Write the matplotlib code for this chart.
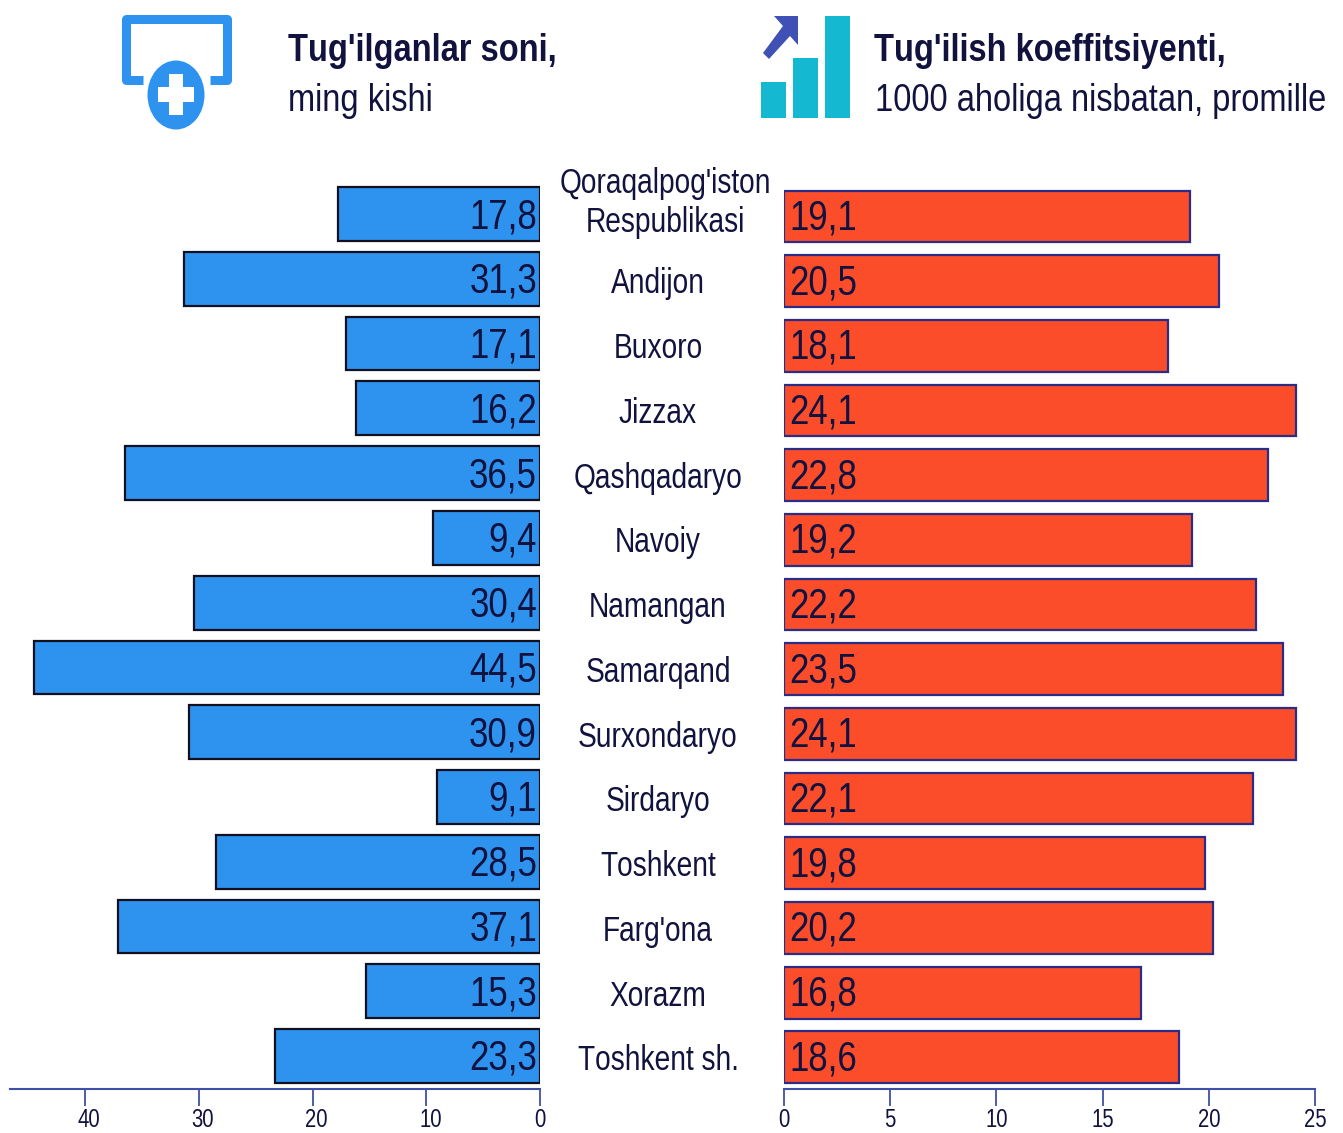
import os
import tempfile
import matplotlib
matplotlib.use("Agg")
import matplotlib.pyplot as plt
from matplotlib import font_manager as fm
from matplotlib.patches import Rectangle, Ellipse, Polygon
from matplotlib.transforms import blended_transform_factory, ScaledTranslation
from fontTools.ttLib import TTFont

regions = ["Qoraqalpog'iston\nRespublikasi", "Andijon", "Buxoro", "Jizzax", "Qashqadaryo",
           "Navoiy", "Namangan", "Samarqand", "Surxondaryo", "Sirdaryo", "Toshkent",
           "Farg'ona", "Xorazm", "Toshkent sh."]
births = [17.8, 31.3, 17.1, 16.2, 36.5, 9.4, 30.4, 44.5, 30.9, 9.1, 28.5, 37.1, 15.3, 23.3]
rate = [19.1, 20.5, 18.1, 24.1, 22.8, 19.2, 22.2, 23.5, 24.1, 22.1, 19.8, 20.2, 16.8, 18.6]
left_ticks = [40, 30, 20, 10, 0]
right_ticks = [0, 5, 10, 15, 20, 25]

W, H = 1343, 1133
BLUE = '#2E93EE'
RED = '#FB4D2A'
NAVY = '#2B2C86'
AXIS = '#3F51A5'
DARK = '#12123F'


# no narrow font is installed, so squeeze Liberation Sans sideways into a new one
def condense(weight, new_name, f):
    src = fm.findfont(fm.FontProperties(family='Liberation Sans', weight=weight))
    font = TTFont(src)
    glyf = font['glyf']
    for gname in glyf.keys():
        g = glyf[gname]
        if g.isComposite():
            for c in g.components:
                c.x = int(c.x * f)
        elif g.numberOfContours > 0:
            g.coordinates.scale((f, 1))
            g.coordinates.toInt()
        g.recalcBounds(glyf)
    hmtx = font['hmtx']
    for gname in hmtx.metrics:
        adv, lsb = hmtx.metrics[gname]
        hmtx.metrics[gname] = (int(adv * f), int(lsb * f))
    for tag in ['kern', 'hdmx', 'VDMX', 'GPOS', 'LTSH']:
        if tag in font:
            del font[tag]
    for rec in font['name'].names:
        if rec.nameID in (1, 4, 16):
            rec.string = new_name
        elif rec.nameID == 6:
            rec.string = new_name.replace(' ', '')
    path = os.path.join(tempfile.gettempdir(), new_name.replace(' ', '') + '.ttf')
    font.save(path)
    fm.fontManager.addfont(path)


condense('normal', 'Squeezed Body', 0.81)
condense('normal', 'Squeezed Head', 0.87)
condense('bold', 'Squeezed HeadB', 0.87)
plt.rcParams['font.family'] = ['Squeezed Body', 'Liberation Sans', 'DejaVu Sans']


def px_axes(fig, x0, x1, y0, y1):
    # y0 = top, y1 = bottom in picture pixels
    return fig.add_axes([x0 / W, 1 - y1 / H, (x1 - x0) / W, (y1 - y0) / H])


def style_axis(ax, ticks, xlim, ylim):
    ax.set_xlim(*xlim)
    ax.set_ylim(*ylim)
    ax.set_yticks([])
    ax.set_xticks(ticks)
    ax.patch.set_visible(False)
    for s in ['top', 'left', 'right']:
        ax.spines[s].set_visible(False)
    ax.spines['bottom'].set_color(AXIS)
    ax.spines['bottom'].set_linewidth(1.5)
    ax.tick_params(axis='x', length=12, width=1.3, color=AXIS, labelsize=18,
                   labelcolor=DARK, pad=2)


fig = plt.figure(figsize=(W / 100, H / 100), dpi=100, facecolor='white')

# left panel
ax1 = px_axes(fig, 10, 540, 170, 1089)
ax1.barh(range(len(births)), births, height=0.83, color=BLUE, edgecolor='#101020', linewidth=1.6)
style_axis(ax1, left_ticks, (46.6, 0), (13.51, -0.68))
for lab, t in zip(ax1.get_xticklabels(), left_ticks):
    if t > 0:
        lab.set_transform(lab.get_transform() + ScaledTranslation(4 / 100, 0, fig.dpi_scale_trans))
for i, v in enumerate(births):
    ax1.annotate(f'{v:.1f}'.replace('.', ','), (0, i), xytext=(-3, -3), textcoords='offset pixels',
                 ha='right', va='center', fontsize=31, color=DARK)

# right panel
ax2 = px_axes(fig, 784, 1315, 170, 1089)
ax2.barh(range(len(rate)), rate, height=0.80, color=RED, edgecolor=NAVY, linewidth=1.6)
style_axis(ax2, right_ticks, (0, 25), (13.49, -0.72))
for i, v in enumerate(rate):
    ax2.annotate(f'{v:.1f}'.replace('.', ','), (0, i), xytext=(5, -2), textcoords='offset pixels',
                 ha='left', va='center', fontsize=31, color=DARK)

# region names between the panels
trans = blended_transform_factory(fig.transFigure, ax1.transData)
for i, name in enumerate(regions):
    x = 658 / W
    dy = 5
    if i == 0:
        x = 665 / W
        dy = -11
    ax1.annotate(name, (x, i), xycoords=trans, xytext=(0, -dy), textcoords='offset pixels',
                 ha='center', va='center', fontsize=25, color=DARK, linespacing=1.2,
                 annotation_clip=False)

# header icons and text, in picture pixels
top = fig.add_axes([0, 0, 1, 1])
top.set_xlim(0, W)
top.set_ylim(H, 0)
top.axis('off')

top.plot([143, 125.5, 125.5, 226.5, 226.5, 210], [80, 80, 18.5, 18.5, 80, 80], color=BLUE, lw=6.5,
         solid_joinstyle='round', solid_capstyle='butt')
top.add_patch(Ellipse((176, 95), 57, 69, facecolor=BLUE, lw=0, zorder=3))
top.add_patch(Rectangle((158, 87), 36, 15, facecolor='white', lw=0, zorder=4))
top.add_patch(Rectangle((169, 74), 14, 41, facecolor='white', lw=0, zorder=4))

for x0, y0 in [(761, 82), (793, 58), (825, 16)]:
    top.add_patch(Rectangle((x0, y0), 25, 118 - y0, facecolor='#14B8D0', lw=0))
top.add_patch(Polygon([(774, 16), (798, 16), (798, 45), (790, 36), (769, 59), (763, 53), (783, 26)],
                      closed=True, facecolor='#3F51B5', lw=0))

top.text(288, 51, "Tug'ilganlar soni,", fontsize=27, fontweight='bold', family='Squeezed HeadB',
         color=DARK, va='center', ha='left')
top.text(288, 101, "ming kishi", fontsize=27, family='Squeezed Head', color=DARK, va='center', ha='left')
top.text(874, 51, "Tug'ilish koeffitsiyenti,", fontsize=27, fontweight='bold', family='Squeezed HeadB',
         color=DARK, va='center', ha='left')
top.text(875, 101, "1000 aholiga nisbatan, promille", fontsize=27, family='Squeezed Head', color=DARK,
         va='center', ha='left')

fig.savefig('out.png', dpi=100)
